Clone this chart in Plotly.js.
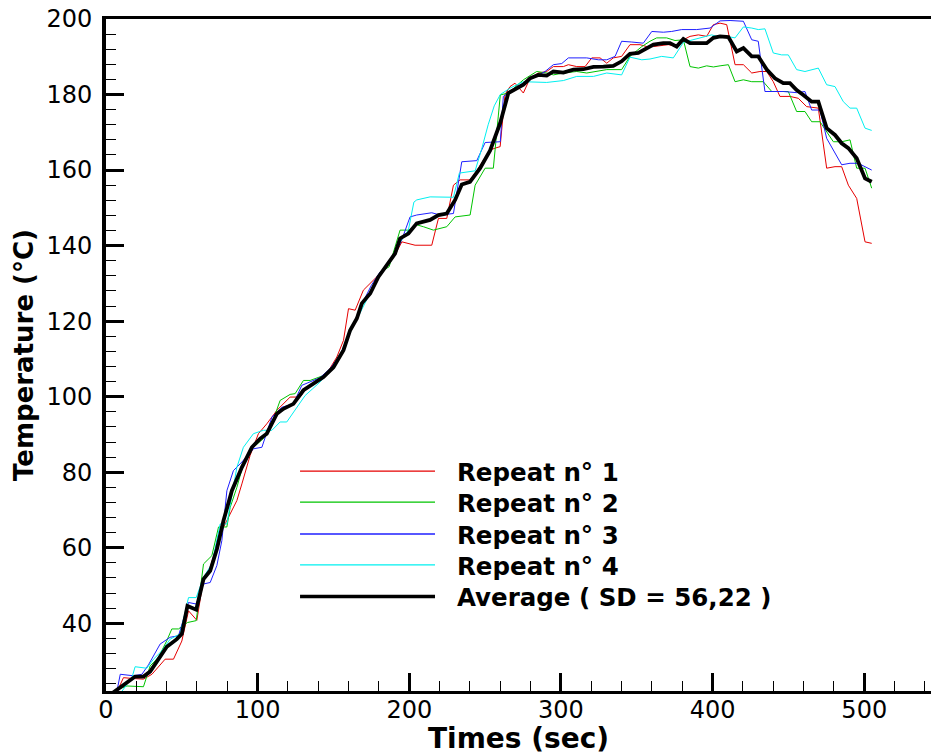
<!DOCTYPE html>
<html>
<head>
<meta charset="utf-8">
<script src="https://cdn.plot.ly/plotly-3.0.1.min.js"></script>
<style>
  html, body { margin: 0; padding: 0; background: #ffffff; }
  #chart { width: 931px; height: 755px; }
</style>
</head>
<body>
<div id="chart"></div>
<script>
// ---- data ----
const seriesNames = ["Repeat n° 1", "Repeat n° 2", "Repeat n° 3", "Repeat n° 4", "Average ( SD = 56,22 )"];

const t1 = [7,11.5,17,24.7,30.3,34.5,39,44.5,50,54.4,59.9,64.3,68.7,75.3,80.8,86.3,89.6,95,100.5,106,112.7,117,121.4,128,132.4,139,145.6,152.2,156.6,159.9,164.3,169.7,176.3,180.7,186.2,191.7,195.1,203.8,214.8,219.2,224.7,229.1,233.5,240.1,243.4,248.9,253.3,256.5,259.9,263.1,266.4,269.7,275.2,279.6,285.1,290.6,295,301.6,304.9,310.4,315.9,320.3,325.8,330.2,334.5,340,345.5,352.1,356.6,361,365.3,370.8,376.3,380.7,385.1,390.6,396.1,400.5,404.9,409.3,414.8,420.3,425.8,431.2,435.7,440,444.4,451,456.5,462,469.7,475.2,480.7,485.1,489.5,495,500.5,504.9];
const y1 = [21.6,25.6,25.4,25.2,26.5,28.5,30.5,30.5,35.3,43.3,40.8,51.7,54.8,63.7,68.1,72.5,76.9,84.4,90.2,92.8,96.4,98.1,99.9,99.9,102.5,104.3,106.1,110.5,114.9,123.3,122.9,128.2,130.8,132.6,135.3,138.4,141.0,140.1,140.1,147.2,147.2,156.0,157.4,157.4,159.2,162.7,165.3,165.8,166.2,180.0,182.1,183.0,180.4,184.3,185.7,186.1,187.4,187.4,187.9,187.4,187.4,189.7,189.7,188.3,189.7,190.1,193.2,193.2,192.7,192.7,192.9,193.2,192.7,194.5,195.4,195.8,195.4,198.5,198.9,198.5,187.9,187.9,185.7,186.1,186.1,183.4,179.5,179.5,179.0,176.8,176.4,160.5,160.9,160.9,156.0,152.5,141.0,140.6];

const t2 = [5,8,13.8,24.7,29.1,34.6,40.1,43.4,47.8,53.7,59.5,64.3,69.8,74.2,79.7,81.9,86.3,90.6,97.2,103.8,108.2,114.8,121.4,124.7,130.2,134.6,143.4,150,156.6,161,165.4,170,176,181,186.7,193.9,200.5,204.9,209.3,215.9,224.7,230.2,240.1,243.4,250,255.4,260,265.3,275.2,284,290.6,295,301.6,310.4,317,323.6,330.2,340,345.5,353.3,358.7,363.1,369.7,375.2,380.7,385.1,390.6,396.1,400.5,404.9,410.4,414.8,420.3,425.8,433.4,439,444.4,449.9,455.4,460.9,465.3,470.8,479.6,485.1,490.6,495,500.5,504.9];
const y2 = [21.6,22.5,23.4,23.2,28.7,31.0,35.4,38.5,38.5,40.2,40.7,55.7,57.9,65.5,65.5,70.7,76.0,82.2,86.6,88.9,91.5,99.0,100.6,100.8,104.3,104.3,105.6,108.0,112.0,117.0,121.0,125.0,129.0,133.0,134.4,144.1,144.1,145.5,145.0,144.1,145.0,147.6,148.1,156.0,160.5,160.5,179.9,180.4,183.9,186.1,185.7,185.2,185.7,186.1,185.7,186.1,186.6,186.6,190.1,192.7,194.1,195.0,195.0,194.3,194.5,187.4,187.0,187.6,187.3,187.6,187.9,183.4,183.9,183.4,183.4,180.8,180.8,180.8,175.5,175.5,172.8,172.8,167.5,167.5,168.0,160.5,160.5,155.2];

const t3 = [7,9.4,18.1,23.7,28,33.5,35.7,42.3,47.8,54.4,59.5,64.3,68.7,73.1,76.4,79.7,84,89.6,97.2,102.8,104.9,109.4,116,123.6,129.1,134.6,141,148,155,160,165,170,175,180.7,186,191,195,200.5,204.9,214.8,220.3,229.1,234.6,244.5,250,260,262,270.9,279.6,289.5,295,300.5,304.9,317,324.7,330.2,335.7,340,346.7,354.3,359.9,367.5,373,379.6,389.5,398.3,404.9,411.5,420.3,425.8,430.1,434.5,440,446.6,455.4,460.9,465.3,470.8,475.2,480,485.1,490.6,496,504.9];
const y3 = [21.6,26.5,26.1,26.5,29.0,32.7,34.5,36.3,36.7,45.5,45.1,50.4,50.8,55.3,61.9,75.1,80.4,82.7,86.2,86.6,89.3,94.6,97.2,98.1,103.0,103.9,105.0,107.5,111.5,116.5,120.5,125.5,129.5,133.0,135.0,138.0,141.5,147.6,148.1,148.7,148.1,148.5,162.2,162.5,167.3,167.5,179.5,182.1,183.9,186.1,187.9,188.2,189.7,189.7,189.2,189.2,190.1,194.1,193.9,193.6,196.7,196.5,196.7,197.2,197.2,197.6,199.5,199.6,199.4,194.5,194.1,180.8,180.8,180.8,180.5,180.8,175.9,175.9,168.4,165.0,161.4,161.8,161.8,160.0];

const t4 = [10.5,17.1,19.2,26.9,31.3,36.8,42.3,48.9,54.4,59.5,64.3,69.8,75.3,79.7,86.3,90.6,97.2,103.8,109.4,114.8,119.2,125.8,131.3,136,141.2,148,155,161,166,172,178,184,190,194,199.4,203,204.9,213.7,229.1,233,243.4,248,252,256,260,266.4,275.2,290.6,301.6,310.4,321.4,330.2,340,345.5,353.3,358.7,366.4,374.1,380.7,387,393,399.4,402.7,409.3,414.8,420.3,425.8,430.1,434.5,440,445.5,449.9,455.4,460.9,469.7,475.2,480.7,486.2,490.6,495,500.5,504.9];
const y4 = [22.0,25.6,28.5,28.1,30.5,32.7,35.8,37.2,46.8,46.8,52.2,55.7,66.3,66.3,81.3,86.6,90.2,91.1,91.1,93.3,93.3,97.2,100.3,102.0,103.9,107.0,111.5,117.0,121.0,126.0,130.5,134.0,137.5,141.0,144.1,151.5,152.1,152.9,152.8,159.2,159.8,166.0,172.0,177.0,180.0,181.7,183.4,183.2,183.7,184.8,184.8,185.7,185.2,189.9,189.2,189.4,190.1,189.7,193.8,194.5,195.2,195.8,195.4,195.4,195.0,197.9,197.6,197.2,197.4,191.0,190.5,190.5,186.6,186.1,187.0,182.6,182.1,178.1,176.4,176.4,171.1,170.5];

const tAvg = [4.5,9.4,14,19.2,24.7,29.1,34.6,40.1,46.7,50,53.7,59.5,64.3,68.7,73.1,77.5,83,89.6,96.2,101.7,106,112.7,117,123.6,130.2,136.8,143.4,150,156.6,161,165.4,168.7,174.2,179.6,185.2,190.6,193.9,199.4,204.9,213.7,219.2,224.7,230.2,234.6,240,246.7,253.3,259.9,265.3,270.9,275.2,279.6,285.1,290.6,295,301.6,308.2,314.8,321.4,328,334.5,340,345.5,351,356.6,361,367.5,371.9,376.3,380.7,385.1,390.6,396.1,400.5,404.9,410.4,415.9,420.3,425.8,430.1,435.7,441.1,446.6,451,455.4,459.8,465.3,469.7,475.2,480.7,485.1,489.5,495,500.5,504.9];
const yAvg = [21.6,23.0,24.6,25.9,25.9,27.2,30.5,33.8,35.8,37.2,44.6,43.6,51.7,53.9,59.6,67.2,75.1,81.3,86.6,88.9,90.2,95.5,96.8,98.1,101.7,103.4,105.2,107.8,112.3,117.6,120.7,124.7,127.3,131.7,134.8,137.9,141.9,143.2,145.9,146.8,148.1,148.5,152.1,156.2,156.9,160.5,165.2,172.4,180.4,181.7,182.6,184.3,185.2,185.0,186.1,185.8,186.6,186.7,187.3,187.4,187.6,188.8,190.8,191.0,192.3,193.2,193.6,193.6,192.7,194.7,193.6,193.6,193.6,195.0,195.4,195.2,191.4,192.3,190.1,190.1,186.6,184.3,183.0,183.0,181.2,179.9,178.1,178.1,171.1,169.3,167.1,165.8,163.1,157.8,156.9];

const xTickVals = [0, 100, 200, 300, 400, 500];
const yTickVals = [40, 60, 80, 100, 120, 140, 160, 180, 200];
const xTitle = "Times (sec)";
const yTitle = "Temperature (°C)";

// ---- styles ----
const colors = ["#e60000", "#00c400", "#1f1fff", "#00f0f0", "#000000"];
const widths = [1, 1, 1, 1, 3.8];
const xs = [t1, t2, t3, t4, tAvg];
const ys = [y1, y2, y3, y4, yAvg];

const traces = xs.map((x, i) => ({
  x: x, y: ys[i], type: "scatter", mode: "lines", name: seriesNames[i],
  line: { color: colors[i], width: widths[i] }, showlegend: false
}));

// manual legend (in paper coordinates)
const legX0 = 0.2352, legX1 = 0.3988, legTextX = 0.4230;
const legY = [0.3272, 0.2811, 0.2336, 0.1876, 0.1406];
const legTextY = [0.3250, 0.2789, 0.2314, 0.1854, 0.1384];
const shapes = seriesNames.map((n, i) => ({
  type: "line", xref: "paper", yref: "paper",
  x0: legX0, x1: legX1, y0: legY[i], y1: legY[i],
  line: { color: colors[i], width: widths[i] === 1 ? 1.3 : 3.5 }
}));
const annotations = seriesNames.map((n, i) => ({
  xref: "paper", yref: "paper", x: legTextX, y: legTextY[i],
  xanchor: "left", yanchor: "middle", showarrow: false, text: n,
  font: { family: "DejaVu Sans", size: 24.5, color: "#000", weight: "bold" }
}));

const tickFont = { family: "DejaVu Sans", size: 24, color: "#000" };

const layout = {
  width: 931, height: 755,
  margin: { l: 106, r: 0, t: 19, b: 64 },
  paper_bgcolor: "#ffffff", plot_bgcolor: "#ffffff",
  showlegend: false,
  xaxis: {
    range: [0, 544], tickvals: xTickVals, ticktext: xTickVals.map(String),
    ticks: "inside", ticklen: 18, tickwidth: 3, tickcolor: "#000",
    minor: { ticks: "inside", ticklen: 10, tickwidth: 1, tickcolor: "#000", dtick: 20, tick0: 0, showgrid: false },
    showline: true, linecolor: "#000", linewidth: 3, mirror: true,
    showgrid: false, zeroline: false, tickfont: tickFont,
    ticklabelstandoff: -5,
    title: { text: xTitle, font: { family: "DejaVu Sans", size: 28, color: "#000", weight: "bold" }, standoff: 2 }
  },
  yaxis: {
    range: [22.07, 200], tickvals: yTickVals, ticktext: yTickVals.map(String),
    ticks: "inside", ticklen: 18, tickwidth: 3, tickcolor: "#000",
    minor: { ticks: "inside", ticklen: 10, tickwidth: 1, tickcolor: "#000", dtick: 4, tick0: 0, showgrid: false },
    showline: true, linecolor: "#000", linewidth: 4, mirror: false,
    showgrid: false, zeroline: false, tickfont: tickFont,
    ticklabelstandoff: 5,
    title: { text: yTitle, font: { family: "DejaVu Sans", size: 26, color: "#000", weight: "bold" }, standoff: 6 }
  },
  shapes: shapes,
  annotations: annotations
};

Plotly.newPlot("chart", traces, layout, { displayModeBar: false, staticPlot: true });
</script>
</body>
</html>
